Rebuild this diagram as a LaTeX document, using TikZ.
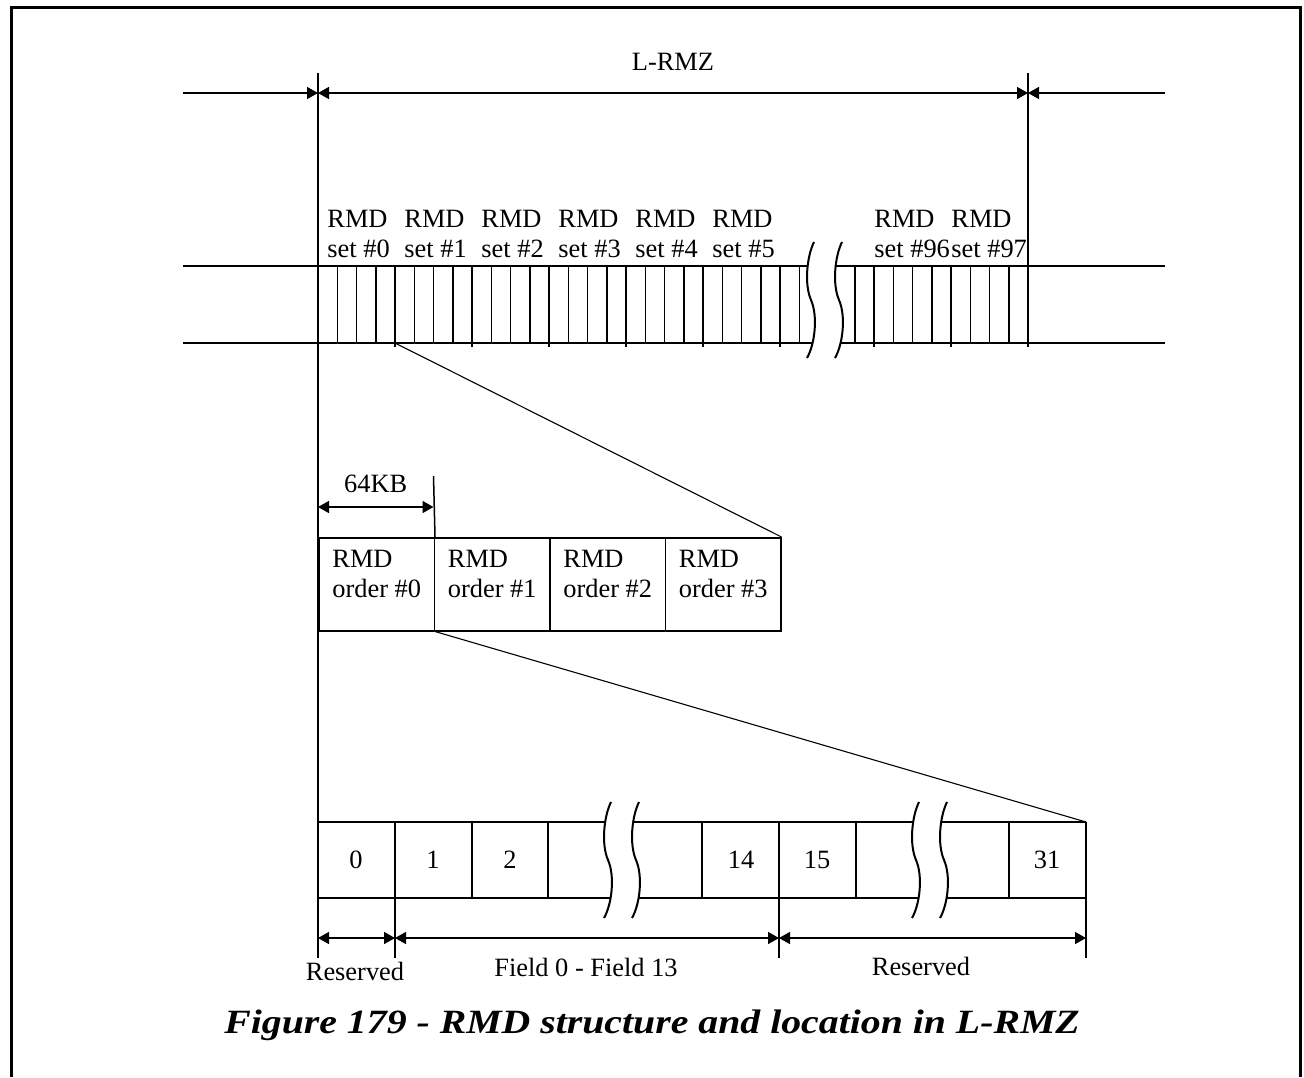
\documentclass[tikz,border=0pt]{standalone}
\usepackage{fontspec}
\setmainfont{Liberation Serif}
\usepackage{tikz}
\usetikzlibrary{arrows.meta,calc}
\tikzset{
  ln/.style={line width=0.75pt},
  thk/.style={line width=1.3pt},
  zln/.style={line width=0.55pt},
  frame/.style={line width=1.5pt},
  brkln/.style={line width=1pt},
  dim/.style={ln, {Triangle[length=5.5pt,width=6pt]}-{Triangle[length=5.5pt,width=6pt]}},
  dimr/.style={ln, -{Triangle[length=5.5pt,width=6pt]}},
  lbl/.style={font=\fontsize{13.2}{15}\selectfont, inner sep=0pt},
  setlbl/.style={lbl, align=left, anchor=base west},
  ordbox/.style={draw, ln, minimum width=57.75pt, minimum height=46.5pt, inner sep=0pt},
  % broken-axis mark: two S curves with white in between
  brk/.pic={
    \fill[white] (3,-58) .. controls (-4,-44) and (-7,-16) .. (0,0)
      .. controls (7,16) and (4,44) .. (-4,58) -- (24,58)
      .. controls (32,44) and (35,16) .. (28,0)
      .. controls (21,-16) and (24,-44) .. (31,-58) -- cycle;
    \foreach \dx in {0,28}
      \draw[brkln, shift={(\dx,0)}] (3,-58) .. controls (-4,-44) and (-7,-16) .. (0,0)
        .. controls (7,16) and (4,44) .. (-4,58);
  },
}
\begin{document}
\begin{tikzpicture}[x=0.5pt, y=-0.5pt]
  \useasboundingbox (0,0) rectangle (1304,1077);
  \draw[frame] (11.5,1077) -- (11.5,7.5) -- (1300.5,7.5) -- (1300.5,1077);

  % L-RMZ extent
  \coordinate (la) at (183,93);
  \coordinate (l0) at (318,93);
  \coordinate (l1) at (1028,93);
  \coordinate (lb) at (1165,93);
  \draw[ln] (318,73) -- (318,958);
  \draw[ln] (1028,73) -- (1028,347);
  \draw[dimr] (la) -- (l0);
  \draw[dim] (l0) -- node[lbl, above=11pt] (lrmz) {L-RMZ} (l1);
  \draw[dimr] (lb) -- (l1);

  % RMD sets bar
  \draw[ln] (183,266) -- (1165,266);
  \draw[ln] (183,343) -- (1165,343);
  \foreach \i in {0,...,25} {
    \pgfmathsetmacro\xx{318+19.25*\i}
    \draw[ln] (\xx,266) -- (\xx,343);
  }
  \foreach \j in {-1,...,8} {
    \pgfmathsetmacro\xx{874+19.25*\j}
    \draw[ln] (\xx,266) -- (\xx,343);
  }
  \foreach \x in {318,395,...,780,874,951,1028}
    \draw[thk] (\x,266) -- (\x,347);
  \pic at (811,300) {brk};
  \foreach \i in {0,...,5}
    \node[setlbl] (s\i) at (327+77*\i,257) {RMD\\set \#\i};
  \node[setlbl] (s96) at (874,257) {RMD\\set \#96};
  \node[setlbl] (s97) at (951,257) {RMD\\set \#97};

  % RMD orders
  \foreach \i in {0,...,3} {
    \node[ordbox, anchor=north west] (o\i) at (318+115.5*\i,537) {};
    \node[setlbl] (ot\i) at ($(o\i.north west)+(14,60)$) {RMD\\order \#\i};
  }
  \coordinate (s0e) at (395,343);
  \draw[zln] (s0e) -- (o3.north east);
  \coordinate (k0) at (318,507);
  \coordinate (k1) at (433.5,507);
  \draw[ln] (433.5,476) -- (o0.north east);
  \draw[dim] (k0) -- node[lbl, above=7pt] (kb) {64KB} (k1);

  % RMD fields
  \draw[ln] (318,822) -- (1086,822);
  \draw[ln] (318,898) -- (1086,898);
  \foreach \x in {318,395,472,548,702,779,856,1009,1086}
    \draw[ln] (\x,822) -- (\x,898);
  \foreach \x/\t in {356/0,433/1,510/2,741/14,817/15,1047/31}
    \node[lbl] (f\t) at (\x,860) {\t};
  \pic at (608,860) {brk};
  \pic at (916,860) {brk};
  \coordinate (r0) at (1086,822);
  \draw[zln] (o0.south east) -- (r0);

  % field extents
  \coordinate (b0) at (318,938);
  \coordinate (b1) at (395,938);
  \coordinate (b2) at (779,938);
  \coordinate (b3) at (1086,938);
  \foreach \x in {395,779,1086}
    \draw[ln] (\x,898) -- (\x,958);
  \draw[dim] (b0) -- (b1);
  \draw[dim] (b1) -- (b2);
  \draw[dim] (b2) -- (b3);
  \node[lbl] (rs0) at (355,971) {Reserved};
  \node[lbl] (fld) at (586,967) {Field 0 - Field 13};
  \node[lbl] (rs1) at (921,966) {Reserved};

  \node[font=\fontsize{17}{20}\selectfont\bfseries\itshape] (cap) at (652,1025)
    {\scalebox{1.17}[1]{Figure 179 - RMD structure and location in L-RMZ}};
\end{tikzpicture}
\end{document}
